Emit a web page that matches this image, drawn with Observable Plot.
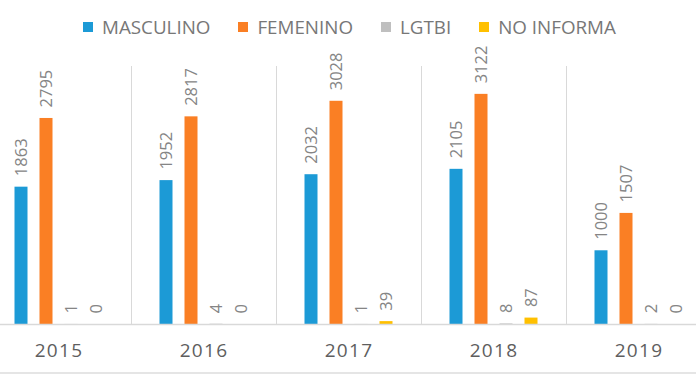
<!DOCTYPE html>
<html>
<head>
<meta charset="utf-8">
<script src="https://cdn.jsdelivr.net/npm/d3@7"></script>
<script src="https://cdn.jsdelivr.net/npm/@observablehq/plot@0.6"></script>
<style>
  html, body { margin: 0; padding: 0; background: #fff; width: 696px; height: 385px; overflow: hidden; font-family: "Open Sans", sans-serif; }
  #legend { height: 40px; display: flex; align-items: center; padding-left: 83px; box-sizing: border-box; padding-top: 14px; }
  .item { display: flex; align-items: center; margin-right: 28px; color: #777; font-size: 18.8px; }
  .sw { width: 10px; height: 10px; margin-right: 9px; }
  #chart svg { display: block; overflow: visible; }
  #chart g[aria-label="fx-axis tick label"] text { letter-spacing: 1.3px; }
</style>
</head>
<body>
<div id="legend"></div>
<div id="chart"></div>
<script>
const years = [2015, 2016, 2017, 2018, 2019];
const series = ["MASCULINO", "FEMENINO", "LGTBI", "NO INFORMA"];
const colors = ["#1C9AD6", "#FA7F24", "#BFBFBF", "#FFC000"];
const masculino = [1863, 1952, 2032, 2105, 1000];
const femenino = [2795, 2817, 3028, 3122, 1507];
const lgtbi = [1, 4, 1, 8, 2];
const noInforma = [0, 0, 39, 87, 0];

const valuesBySeries = [masculino, femenino, lgtbi, noInforma];
const data = [];
years.forEach((year, i) => {
  series.forEach((s, j) => {
    data.push({ year, series: s, value: valuesBySeries[j][i] });
  });
});

// legend
const legend = document.getElementById("legend");
series.forEach((s, j) => {
  const it = document.createElement("div");
  it.className = "item";
  const sw = document.createElement("span");
  sw.className = "sw";
  sw.style.background = colors[j];
  const tx = document.createElement("span");
  tx.textContent = s;
  it.appendChild(sw);
  it.appendChild(tx);
  legend.appendChild(it);
});

const chart = Plot.plot({
  width: 696,
  height: 334,
  marginLeft: -14.5,
  marginRight: -14.5,
  marginTop: 26,
  marginBottom: 50,
  style: { fontFamily: "Open Sans, sans-serif", background: "#fff", overflow: "visible" },
  fx: { domain: years, paddingInner: 0, paddingOuter: 0, axis: null, label: null },
  x: { domain: series, paddingInner: 0.48, paddingOuter: 1.14, axis: null },
  y: { domain: [0, 3500], axis: null },
  color: { domain: series, range: colors },
  marks: [
    Plot.frame({ anchor: "left", stroke: "#d9d9d9", strokeWidth: 1 }),
    Plot.barY(data, { fx: "year", x: "series", y: "value", fill: "series" }),
    Plot.ruleY([0], { stroke: "#d9d9d9", strokeWidth: 1.5 }),
    Plot.text(data, {
      fx: "year", x: "series", y: "value",
      text: d => String(d.value),
      rotate: -90, textAnchor: "start", lineAnchor: "middle",
      dy: -11, fontSize: 16.5, fill: "#858585"
    }),
    Plot.axisFx({ anchor: "bottom", tickSize: 0, tickPadding: 19, fontSize: 19, fill: "#5e5e5e", label: null, tickFormat: d => String(d) })
  ]
});

document.getElementById("chart").appendChild(chart);
d3.select(chart).append("line")
  .attr("x1", 0).attr("x2", 696)
  .attr("y1", 333).attr("y2", 333)
  .attr("stroke", "#dcdcdc").attr("stroke-width", 1.5);
</script>
</body>
</html>
